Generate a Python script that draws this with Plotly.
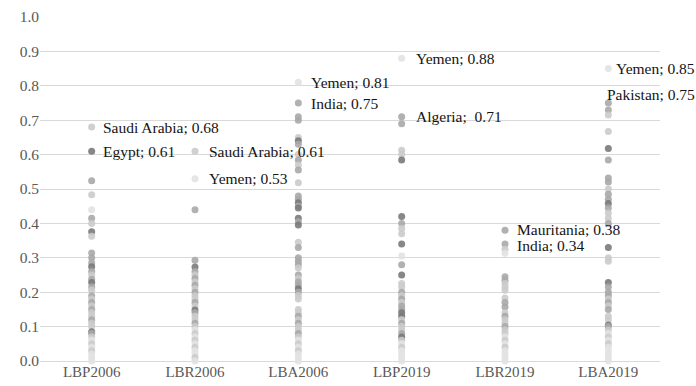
import plotly.graph_objects as go

# Categories (index / year combinations)
categories = ["LBP2006", "LBR2006", "LBA2006", "LBP2019", "LBR2019", "LBA2019"]

# Country scores per category
lbp2006 = [0.68, 0.61, 0.524, 0.483, 0.44, 0.415, 0.40, 0.376, 0.363, 0.314, 0.30, 0.285,
           0.274, 0.26, 0.25, 0.238, 0.228, 0.215, 0.206, 0.19, 0.18, 0.17, 0.16, 0.15,
           0.14, 0.13, 0.12, 0.11, 0.10, 0.085, 0.08, 0.07, 0.06, 0.05, 0.04, 0.03, 0.02,
           0.01, 0.0]
lbr2006 = [0.61, 0.53, 0.44, 0.293, 0.273, 0.26, 0.25, 0.24, 0.23, 0.22, 0.21, 0.20, 0.19,
           0.18, 0.17, 0.16, 0.148, 0.14, 0.13, 0.12, 0.11, 0.10, 0.09, 0.08, 0.07, 0.06,
           0.05, 0.04, 0.03, 0.02, 0.01, 0.0]
lba2006 = [0.81, 0.75, 0.71, 0.70, 0.65, 0.64, 0.63, 0.60, 0.584, 0.57, 0.555, 0.518, 0.48,
           0.47, 0.46, 0.45, 0.445, 0.415, 0.405, 0.395, 0.345, 0.33, 0.30, 0.29, 0.28, 0.27,
           0.25, 0.24, 0.23, 0.22, 0.21, 0.20, 0.19, 0.18, 0.15, 0.14, 0.13, 0.12, 0.11, 0.10,
           0.09, 0.08, 0.07, 0.06, 0.05, 0.04, 0.03, 0.02, 0.01, 0.0]
lbp2019 = [0.88, 0.71, 0.69, 0.613, 0.60, 0.584, 0.42, 0.40, 0.385, 0.37, 0.34, 0.305, 0.28,
           0.25, 0.225, 0.215, 0.20, 0.19, 0.18, 0.17, 0.16, 0.15, 0.14, 0.13, 0.12, 0.11,
           0.10, 0.09, 0.08, 0.07, 0.06, 0.05, 0.04, 0.03, 0.02, 0.01, 0.0]
lbr2019 = [0.38, 0.34, 0.325, 0.313, 0.245, 0.235, 0.225, 0.215, 0.206, 0.183, 0.17, 0.157,
           0.14, 0.13, 0.12, 0.11, 0.10, 0.09, 0.08, 0.07, 0.06, 0.05, 0.04, 0.03, 0.02,
           0.01, 0.0]
lba2019 = [0.85, 0.75, 0.73, 0.715, 0.667, 0.618, 0.584, 0.532, 0.52, 0.50, 0.485, 0.47,
           0.458, 0.445, 0.43, 0.415, 0.40, 0.33, 0.30, 0.29, 0.228, 0.215, 0.20, 0.19, 0.18,
           0.17, 0.16, 0.15, 0.13, 0.12, 0.105, 0.10, 0.09, 0.08, 0.07, 0.06, 0.05, 0.04,
           0.03, 0.02, 0.01, 0.0]
series = [lbp2006, lbr2006, lba2006, lbp2019, lbr2019, lba2019]

# Labelled countries
label_categories = ["LBP2006", "LBP2006", "LBR2006", "LBR2006", "LBA2006", "LBA2006",
                    "LBP2019", "LBP2019", "LBR2019", "LBR2019", "LBA2019", "LBA2019"]
label_countries = ["Saudi Arabia", "Egypt", "Saudi Arabia", "Yemen", "Yemen", "India",
                   "Yemen", "Algeria", "Mauritania", "India", "Yemen", "Pakistan"]
label_values = [0.68, 0.61, 0.61, 0.53, 0.81, 0.75, 0.88, 0.71, 0.38, 0.34, 0.85, 0.75]

# Marker shade per point, one letter per value (v = very light, l = light, m = mid, d = dark)
shades = {
    "LBP2006": "ldmlvmldlmmmdmlmdmlmlmlmllmlldmlvlvlvvv",
    "LBR2006": "lvmmdmlmlmlmllmldmllmlvlvlvlvvlv",
    "LBA2006": "vmmmldmlmlmlmmdmddmdlmmmmlmlmmdmllllmlmllmlvlvlvvv",
    "LBP2019": "vmmllddmlldvmdllmlmlmmddlmllmdlvlvvvv",
    "LBR2019": "mmlvmmllllmmlmllmllvlvlvvvv",
    "LBA2019": "vmmlldmmmlmmdmllmdlldmmmlmlmlldmlvlvlvvvvv",
}
shade_colors = {"v": "#e2e2e2", "l": "#cbcbcb", "m": "#a8a8a8", "d": "#7a7a7a"}

# Label offsets in pixels (x, y) from the labelled point
label_offsets = [(9, 0), (9, 0), (12, 0), (12, 0), (11, 0), (11, 0),
                 (12, 0), (12, 0), (10, 1), (10, -1), (6, 0), (-3, 9)]

serif = "Liberation Serif, Times New Roman, DejaVu Serif, serif"

fig = go.Figure()
for cat, vals in zip(categories, series):
    codes = shades[cat]
    colors = [shade_colors[codes[i]] if i < len(codes) else shade_colors["l"]
              for i in range(len(vals))]
    fig.add_trace(go.Scatter(
        x=[cat] * len(vals), y=vals, mode="markers",
        marker=dict(size=7, color=colors, opacity=0.9, line=dict(width=0)),
        cliponaxis=False, showlegend=False, hoverinfo="x+y",
    ))

for cat, name, val, (dx, dy) in zip(label_categories, label_countries, label_values, label_offsets):
    sep = ";\u00a0\u00a0" if name == "Algeria" else "; "
    fig.add_annotation(
        x=cat, y=val, text=f"{name}{sep}{val:.2f}", showarrow=False,
        xanchor="left", yanchor="middle", xshift=dx, yshift=dy,
        font=dict(family=serif, size=15.5, color="#141414"),
    )

fig.update_layout(
    width=696, height=386,
    margin=dict(l=40, r=36, t=17, b=25, autoexpand=False),
    paper_bgcolor="white", plot_bgcolor="white",
    font=dict(family=serif, size=15, color="#595959"),
    xaxis=dict(
        type="category", categoryorder="array", categoryarray=categories,
        range=[-0.5, 5.5], showgrid=False, showline=False, zeroline=False,
        ticks="", automargin=False,
        tickfont=dict(family=serif, size=15, color="#595959"),
    ),
    yaxis=dict(
        range=[0, 1], dtick=0.1, tickformat=".1f", showgrid=True,
        gridcolor="#d9d9d9", gridwidth=1, zeroline=True, zerolinecolor="#d9d9d9",
        zerolinewidth=1, showline=False, ticks="", automargin=False,
        tickfont=dict(family=serif, size=15.5, color="#595959"),
    ),
)

fig.write_html("out.html")
